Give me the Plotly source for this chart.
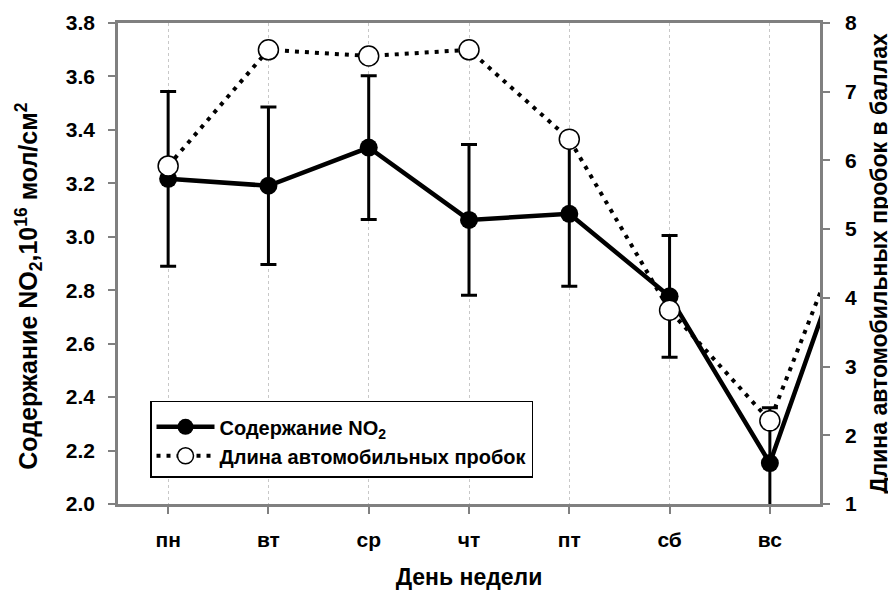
import plotly.graph_objects as go

days = ['пн', 'вт', 'ср', 'чт', 'пт', 'сб', 'вс']
no2 = [3.217, 3.191, 3.334, 3.063, 3.086, 2.777, 2.153]
no2_err = [0.327, 0.295, 0.269, 0.282, 0.271, 0.228, 0.207]
traffic = [5.92, 7.61, 7.52, 7.61, 6.31, 3.82, 2.21]

# the week wraps round: lines run on to the next Monday, cut off by the frame
x = list(range(len(days) + 1))
no2_line = no2 + [no2[0]]
no2_err_line = no2_err + [no2_err[0]]
traffic_line = traffic + [traffic[0]]

FONT = 'Liberation Sans'
AXIS_GRAY = '#808080'

fig = go.Figure()

fig.add_trace(go.Scatter(
    x=x, y=no2_line,
    name='<b>Содержание NO<sub>2</sub></b>',
    legendgroup='no2',
    mode='lines+markers',
    line=dict(color='black', width=4.5),
    marker=dict(color='black', size=18),
    error_y=dict(type='data', array=no2_err_line, color='black', thickness=3, width=8),
    yaxis='y',
))

fig.add_trace(go.Scatter(
    x=x, y=traffic_line,
    name='<b>Длина автомобильных пробок</b>',
    legendgroup='traffic',
    mode='lines+markers',
    line=dict(color='black', width=4, dash='4px,6px'),
    marker=dict(color='white', size=20, line=dict(color='black', width=1.5)),
    yaxis='y2',
))

tick_font = dict(family=FONT, size=21, color='black', weight='bold')
title_font = dict(family=FONT, size=23, color='black', weight='bold')

# left title as an annotation so it can sit a little below the plot's centre
fig.add_annotation(
    text='<b>Содержание NO<sub>2</sub>,10<sup>16</sup> мол/см<sup>2</sup></b>',
    xref='paper', yref='paper', x=-0.128, y=0.452,
    xanchor='center', yanchor='middle', textangle=-90, showarrow=False,
    font=dict(family=FONT, size=25, color='black'),
)

# page body adds an 8px offset, so the figure is 8px smaller than the window
fig.update_layout(
    width=888, height=582,
    margin=dict(l=110, r=76, t=15, b=86),
    paper_bgcolor='white',
    plot_bgcolor='white',
    font=dict(family=FONT, color='black'),
    showlegend=True,
    legend=dict(
        x=0.0456, y=0.215, xanchor='left', yanchor='top',
        bgcolor='white', bordercolor='black', borderwidth=1.5,
        font=dict(family=FONT, size=20, color='black'),
        title=dict(text=' ', font=dict(size=4)),
        itemwidth=58, tracegroupgap=14,
        traceorder='normal',
    ),
    xaxis=dict(
        range=[-0.5, 6.5],
        tickmode='array', tickvals=list(range(len(days))), ticktext=days,
        tickfont=tick_font,
        ticks='outside', ticklen=7, tickwidth=2, tickcolor=AXIS_GRAY,
        ticklabelstandoff=8,
        showline=True, linecolor=AXIS_GRAY, linewidth=2.5, mirror=True,
        showgrid=True, gridcolor='#c8c8c8', griddash='dot', gridwidth=1,
        zeroline=False, automargin=False,
        title=dict(text='День недели', font=title_font, standoff=19),
    ),
    yaxis=dict(
        range=[2.0, 3.8], dtick=0.2, tickformat='.1f',
        tickfont=tick_font,
        ticks='outside', ticklen=7, tickwidth=2, tickcolor=AXIS_GRAY,
        ticklabelstandoff=9,
        showline=True, linecolor=AXIS_GRAY, linewidth=2.5,
        showgrid=False, zeroline=False, automargin=False,
    ),
    yaxis2=dict(
        range=[1, 8], dtick=1,
        overlaying='y', side='right',
        tickfont=tick_font,
        ticks='outside', ticklen=7, tickwidth=2, tickcolor=AXIS_GRAY,
        ticklabelstandoff=11,
        showline=True, linecolor=AXIS_GRAY, linewidth=2.5,
        showgrid=False, zeroline=False, automargin=False,
        title=dict(text='Длина автомобильных пробок в баллах', font=title_font, standoff=15),
    ),
)

fig.write_html('out.html')
